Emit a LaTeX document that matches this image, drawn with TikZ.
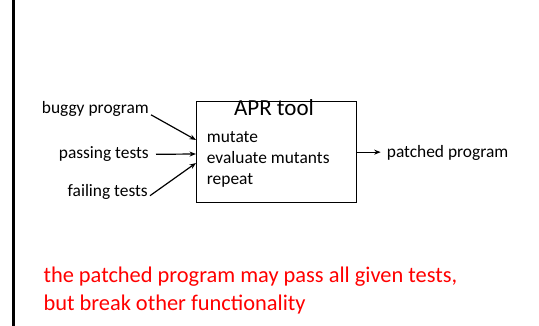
\documentclass[tikz,border=0pt]{standalone}
\usepackage{fontspec}
\setmainfont{Carlito}
\usetikzlibrary{arrows.meta}
\begin{document}
\begin{tikzpicture}[x=1pt,y=-1pt,
  lbl/.style={inner sep=0pt, font=\fontsize{17.4}{21}\selectfont},
  arr/.style={-{Stealth[length=6.5pt,width=5pt]}, line width=1.2pt},
  note/.style={inner sep=0pt, anchor=base west, text=red, font=\fontsize{22.4}{28}\selectfont}]
\useasboundingbox (0,0) rectangle (539,326);
\draw[line width=3pt] (13.3,0) -- (13.3,326);
\node[draw, line width=1.3pt, minimum width=160pt, minimum height=101pt, inner sep=0pt, anchor=north west] (tool) at (196,101) {};
\node[inner sep=0pt, anchor=base, font=\fontsize{23}{27}\selectfont] (title) at (274,115.7) {APR tool};
\node[lbl, anchor=base west] (m1) at (206.7,142.3) {mutate};
\node[lbl, anchor=base west] (m2) at (206.7,163.3) {evaluate mutants};
\node[lbl, anchor=base west] (m3) at (206.7,184.3) {repeat};
\node[lbl, anchor=base east] (bug) at (149,113.3) {buggy program};
\node[lbl, anchor=base east] (pass) at (149,158.3) {passing tests};
\node[lbl, anchor=base east] (fail) at (148,196.7) {failing tests};
\node[lbl, anchor=base west] (out) at (386.7,157.3) {patched program};
\coordinate (i1) at (196,140);
\coordinate (i2) at (196,154);
\coordinate (i3) at (196,163);
\draw[arr] ([shift={(2,1.5)}]bug.base east) -- (i1);
\draw[arr] ([shift={(7,-4)}]pass.base east) -- (i2);
\draw[arr] ([shift={(2,-1)}]fail.base east) -- (i3);
\draw[arr, shorten >=6pt] (tool.east) -- (tool.east -| out.west);
\node[note] (n1) at (43.3,282.3) {the patched program may pass all given tests,};
\node[note] (n2) at (43.3,310.3) {but break other functionality};
\end{tikzpicture}
\end{document}
